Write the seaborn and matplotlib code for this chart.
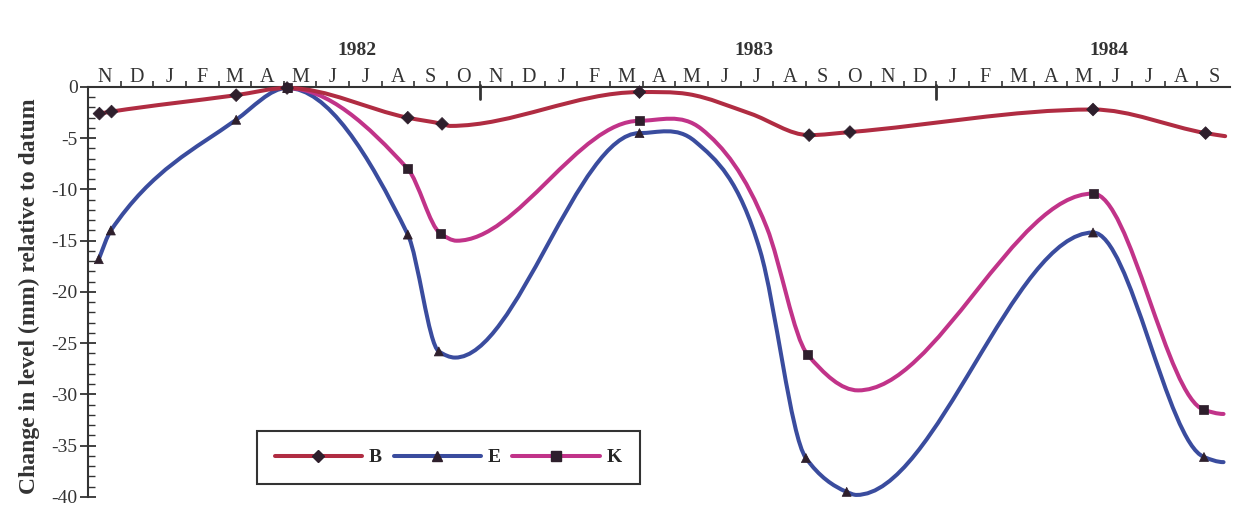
import numpy as np
import pandas as pd
import matplotlib
matplotlib.use('Agg')
import matplotlib.pyplot as plt
import seaborn as sns
from matplotlib.path import Path
from matplotlib.patches import PathPatch
from matplotlib.lines import Line2D
from matplotlib.ticker import MultipleLocator
import matplotlib.transforms as mtransforms

# x = months counted from the start of November 1981
month_labels = list('NDJFMAMJJASONDJFMAMJJASONDJFMAMJJAS')
year_labels = ['1982', '1983', '1984']
year_label_pos = [8.25, 20.4, 31.3]
year_breaks = [12, 26]

# measured points (markers)
b_x = [0.35, 0.72, 4.54, 6.1, 9.8, 10.85, 16.9, 22.1, 23.35, 30.8, 34.25]
b_y = [-2.6, -2.4, -0.8, -0.1, -3.0, -3.6, -0.5, -4.7, -4.4, -2.2, -4.5]
e_x = [0.33, 0.7, 4.54, 6.1, 9.8, 10.75, 16.9, 22.0, 23.25, 30.8, 34.2]
e_y = [-16.8, -14.0, -3.2, -0.1, -14.4, -25.8, -4.5, -36.2, -39.5, -14.2, -36.1]
k_x = [6.1, 9.8, 10.8, 16.9, 22.05, 30.8, 34.2]
k_y = [-0.1, -8.0, -14.3, -3.3, -26.1, -10.4, -31.5]

# extra readings along the drawn curves (no marker there)
b_curve_extra = [(11.1, -3.8), (18.4, -0.7), (20.3, -2.6), (34.85, -4.8)]
e_curve_extra = [(11.25, -26.4), (18.6, -5.3), (20.6, -16.0), (23.55, -39.8),
                 (34.8, -36.6)]
k_curve_extra = [(11.3, -15.0), (18.8, -4.1), (20.8, -13.7), (23.6, -29.6),
                 (34.8, -31.9)]

colors = {'B': '#b02c42', 'E': '#3a4c9e', 'K': '#c13389'}
markers = {'B': 'D', 'E': '^', 'K': 's'}
mark_color = '#2e1f2c'


def curve_slopes(x, y, extra):
    # shape-preserving slopes; plain three-point slopes at the extra readings
    h = np.diff(x)
    d = np.diff(y) / h
    n = len(x)
    m = np.zeros(n)
    for i in range(1, n - 1):
        if d[i - 1] * d[i] <= 0:
            m[i] = 0
        elif extra[i]:
            m[i] = (h[i] * d[i - 1] + h[i - 1] * d[i]) / (h[i - 1] + h[i])
        else:
            w1 = 2 * h[i] + h[i - 1]
            w2 = h[i] + 2 * h[i - 1]
            m[i] = (w1 + w2) / (w1 / d[i - 1] + w2 / d[i])

    def end(h0, h1, d0, d1):
        s = ((2 * h0 + h1) * d0 - h0 * d1) / (h0 + h1)
        if np.sign(s) != np.sign(d0):
            s = 0
        elif np.sign(d0) != np.sign(d1) and abs(s) > 3 * abs(d0):
            s = 3 * d0
        return s
    m[0] = end(h[0], h[1], d[0], d[1])
    m[-1] = end(h[-1], h[-2], d[-1], d[-2])
    return m


def smooth_path(xs, ys, extra):
    # cubic Hermite curve drawn as Bezier segments
    x = np.asarray(xs, float)
    y = np.asarray(ys, float)
    m = curve_slopes(x, y, extra)
    verts = [(x[0], y[0])]
    codes = [Path.MOVETO]
    for i in range(len(x) - 1):
        h = x[i + 1] - x[i]
        verts += [(x[i] + h / 3, y[i] + m[i] * h / 3),
                  (x[i + 1] - h / 3, y[i + 1] - m[i + 1] * h / 3),
                  (x[i + 1], y[i + 1])]
        codes += [Path.CURVE4] * 3
    return Path(verts, codes)


sns.set_style('ticks')
plt.rcParams['font.family'] = ['Liberation Serif', 'DejaVu Serif']
plt.rcParams['axes.unicode_minus'] = False

fig = plt.figure(figsize=(12.38, 5.14), dpi=100)
ax = fig.add_axes([0.0711, 0.0331, 0.9225, 0.7977])

series = {'B': (b_x, b_y, b_curve_extra),
          'E': (e_x, e_y, e_curve_extra),
          'K': (k_x, k_y, k_curve_extra)}

# smoothed curves, E below K below B
for name, z in [('E', 2), ('K', 2.5), ('B', 3)]:
    xs, ys, extra = series[name]
    pts = sorted([(px, py, False) for px, py in zip(xs, ys)] +
                 [(px, py, True) for px, py in extra])
    cx = [p[0] for p in pts]
    cy = [p[1] for p in pts]
    flags = [p[2] for p in pts]
    patch = PathPatch(smooth_path(cx, cy, flags), fill=False,
                      edgecolor=colors[name], lw=2.9, capstyle='round',
                      joinstyle='round', clip_on=False, zorder=z)
    ax.add_patch(patch)

df = pd.concat([pd.DataFrame({'month': b_x, 'level': b_y, 'site': 'B'}),
                pd.DataFrame({'month': e_x, 'level': e_y, 'site': 'E'}),
                pd.DataFrame({'month': k_x, 'level': k_y, 'site': 'K'})])

sns.scatterplot(data=df, x='month', y='level', style='site', markers=markers,
                color=mark_color, edgecolor=mark_color, s=42, legend=False,
                ax=ax, zorder=5, clip_on=False)

ax.set_xlim(0, 35)
ax.set_ylim(-40, 0)

# axes styling
for side in ['right', 'bottom']:
    ax.spines[side].set_visible(False)
for side in ['top', 'left']:
    ax.spines[side].set_color('#333333')
    ax.spines[side].set_linewidth(1.5)

ax.xaxis.tick_top()
ax.set_xticks(np.arange(1, 35))
ax.set_xticklabels([])
ax.set_xticks(np.arange(len(month_labels)) + 0.5, minor=True)
ax.set_xticklabels(month_labels, minor=True)
ax.tick_params(axis='x', which='major', direction='out', length=4, width=1.2,
               color='#333333', top=True, bottom=False)
ax.tick_params(axis='x', which='minor', length=0, pad=0, labelsize=14.5,
               labelcolor='#333333', top=True, bottom=False, labeltop=True)

ax.set_yticks(range(-40, 1, 5))
ax.yaxis.set_minor_locator(MultipleLocator(1))
ax.tick_params(axis='y', which='major', direction='inout', length=11, width=1.3,
               labelsize=14, labelcolor='#333333', color='#333333', pad=2)
ax.tick_params(axis='y', which='minor', direction='in', length=5, width=1,
               color='#333333')

ax.set_xlabel('')
ax.set_ylabel('Change in level (mm) relative to datum', fontsize=17,
              fontweight='bold', color='#333333')
ax.yaxis.set_label_coords(-0.042, 0.49)

# year boundary ticks
for brk in year_breaks:
    ax.plot([brk, brk], [0.2, -1.2], color='#333333', lw=2, clip_on=False,
            zorder=6)

trans = mtransforms.blended_transform_factory(ax.transData, ax.transAxes)
for lab, pos in zip(year_labels, year_label_pos):
    ax.text(pos, 1.09, lab, transform=trans, ha='center', va='center',
            fontsize=14, fontweight='bold', color='#333333')

handles = [Line2D([], [], color=colors[n], lw=2.9, marker=markers[n],
                  markersize=6.5, markerfacecolor=mark_color,
                  markeredgecolor=mark_color) for n in ['B', 'E', 'K']]
leg = ax.legend(handles, ['B', 'E', 'K'], ncol=3, loc='lower left',
                bbox_to_anchor=(0.148, 0.032), borderaxespad=0, frameon=True,
                fancybox=False, framealpha=1, edgecolor='#333333',
                handlelength=4.5, handletextpad=0.35, columnspacing=0.6,
                borderpad=0.9,
                prop={'family': ['Liberation Serif'], 'weight': 'bold',
                      'size': 14})
leg.get_frame().set_linewidth(1.5)

fig.savefig('out.png', dpi=100)
